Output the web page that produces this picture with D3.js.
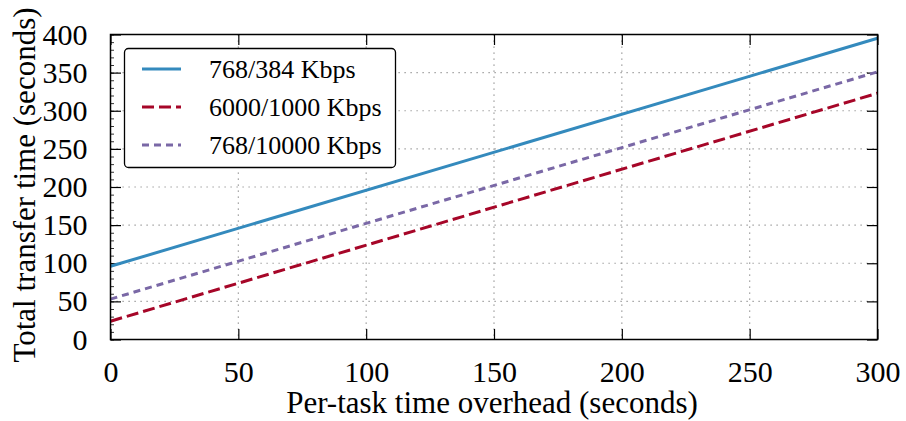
<!DOCTYPE html>
<html><head><meta charset="utf-8">
<script src="https://cdn.jsdelivr.net/npm/d3@7"></script>
<style>body{margin:0;background:#fff}svg{display:block}svg text{font-family:"Liberation Serif","Times New Roman",serif !important;fill:#000}</style>
</head><body><div id="chart"></div>
<script>
const overhead = [0, 300];
const seriesNames = ["768/384 Kbps", "6000/1000 Kbps", "768/10000 Kbps"];
const series384 = [96, 395];
const series6000 = [24, 323];
const series10000 = [53, 351];
const xTicks = [0, 50, 100, 150, 200, 250, 300];
const yTicks = [0, 50, 100, 150, 200, 250, 300, 350, 400];
const colors = ["#348ABD", "#A60628", "#7A68A6"];
const dashes = [null, "12,5", "7,5"];

const W = 906, H = 421;
const m = {l: 110.5, r: 877.5, t: 34.5, b: 339.5};
const svg = d3.select("#chart").append("svg").attr("width", W).attr("height", H);
const x = d3.scaleLinear().domain([0, 300]).range([m.l, m.r]);
const y = d3.scaleLinear().domain([0, 400]).range([m.b, m.t]);

// grid
const grid = svg.append("g").attr("stroke", "#8a8a8a").attr("stroke-width", 1.2).attr("stroke-dasharray", "1.2,4.8");
xTicks.slice(1, -1).forEach(v => grid.append("line").attr("x1", x(v)).attr("x2", x(v)).attr("y1", m.t).attr("y2", m.b));
yTicks.slice(1, -1).forEach(v => grid.append("line").attr("x1", m.l).attr("x2", m.r).attr("y1", y(v)).attr("y2", y(v)));

// axes with inward ticks
const axB = svg.append("g").attr("transform", `translate(0,${m.b})`).call(d3.axisBottom(x).tickValues(xTicks).tickSizeInner(-10.5).tickSizeOuter(0).tickPadding(21));
const axT = svg.append("g").attr("transform", `translate(0,${m.t})`).call(d3.axisTop(x).tickValues(xTicks).tickSizeInner(-10.5).tickSizeOuter(0).tickFormat(""));
const axL = svg.append("g").attr("transform", `translate(${m.l},0)`).call(d3.axisLeft(y).tickValues(yTicks).tickSizeInner(-10.5).tickSizeOuter(0).tickPadding(23));
const axR = svg.append("g").attr("transform", `translate(${m.r},0)`).call(d3.axisRight(y).tickValues(yTicks).tickSizeInner(-10.5).tickSizeOuter(0).tickFormat(""));
const axLm = svg.append("g").attr("transform", `translate(${m.l},0)`).call(d3.axisLeft(y).tickValues(d3.range(0, 401, 10)).tickSizeInner(-3.5).tickSizeOuter(0).tickFormat(""));
[axB, axT, axL, axR, axLm].forEach(a => {
  a.select(".domain").remove();
  a.selectAll("line").attr("stroke", "#000").attr("stroke-width", 1.2);
  a.selectAll("text").attr("font-size", 30);
});
axLm.selectAll("line").attr("stroke-width", 0.8);

// lines
const data = [series384, series6000, series10000];
const line = d3.line().x((d, i) => x(overhead[i])).y(d => y(d));
data.forEach((s, k) => {
  svg.append("path").datum(s).attr("d", line).attr("fill", "none")
    .attr("stroke", colors[k]).attr("stroke-width", 3)
    .attr("stroke-dasharray", dashes[k]);
});

// frame
svg.append("rect").attr("x", m.l).attr("y", m.t).attr("width", m.r - m.l).attr("height", m.b - m.t)
  .attr("fill", "none").attr("stroke", "#000").attr("stroke-width", 1.5);

// legend
const lg = svg.append("g");
lg.append("rect").attr("x", 124.5).attr("y", 48.5).attr("width", 271).attr("height", 119).attr("rx", 4)
  .attr("fill", "#fff").attr("stroke", "#000").attr("stroke-width", 1.3);
seriesNames.forEach((n, k) => {
  const yy = 69 + k * 38;
  lg.append("line").attr("x1", 142).attr("x2", 181).attr("y1", yy).attr("y2", yy)
    .attr("stroke", colors[k]).attr("stroke-width", 3).attr("stroke-dasharray", dashes[k]);
  lg.append("text").attr("x", 209).attr("y", yy + 9).text(n).attr("font-size", 26);
});

// axis labels
svg.append("text").attr("x", 492).attr("y", 413).attr("text-anchor", "middle")
  .attr("font-size", 31).text("Per-task time overhead (seconds)");
svg.append("text").attr("transform", "translate(35,185) rotate(-90)").attr("text-anchor", "middle")
  .attr("font-size", 31).text("Total transfer time (seconds)");
</script></body></html>
